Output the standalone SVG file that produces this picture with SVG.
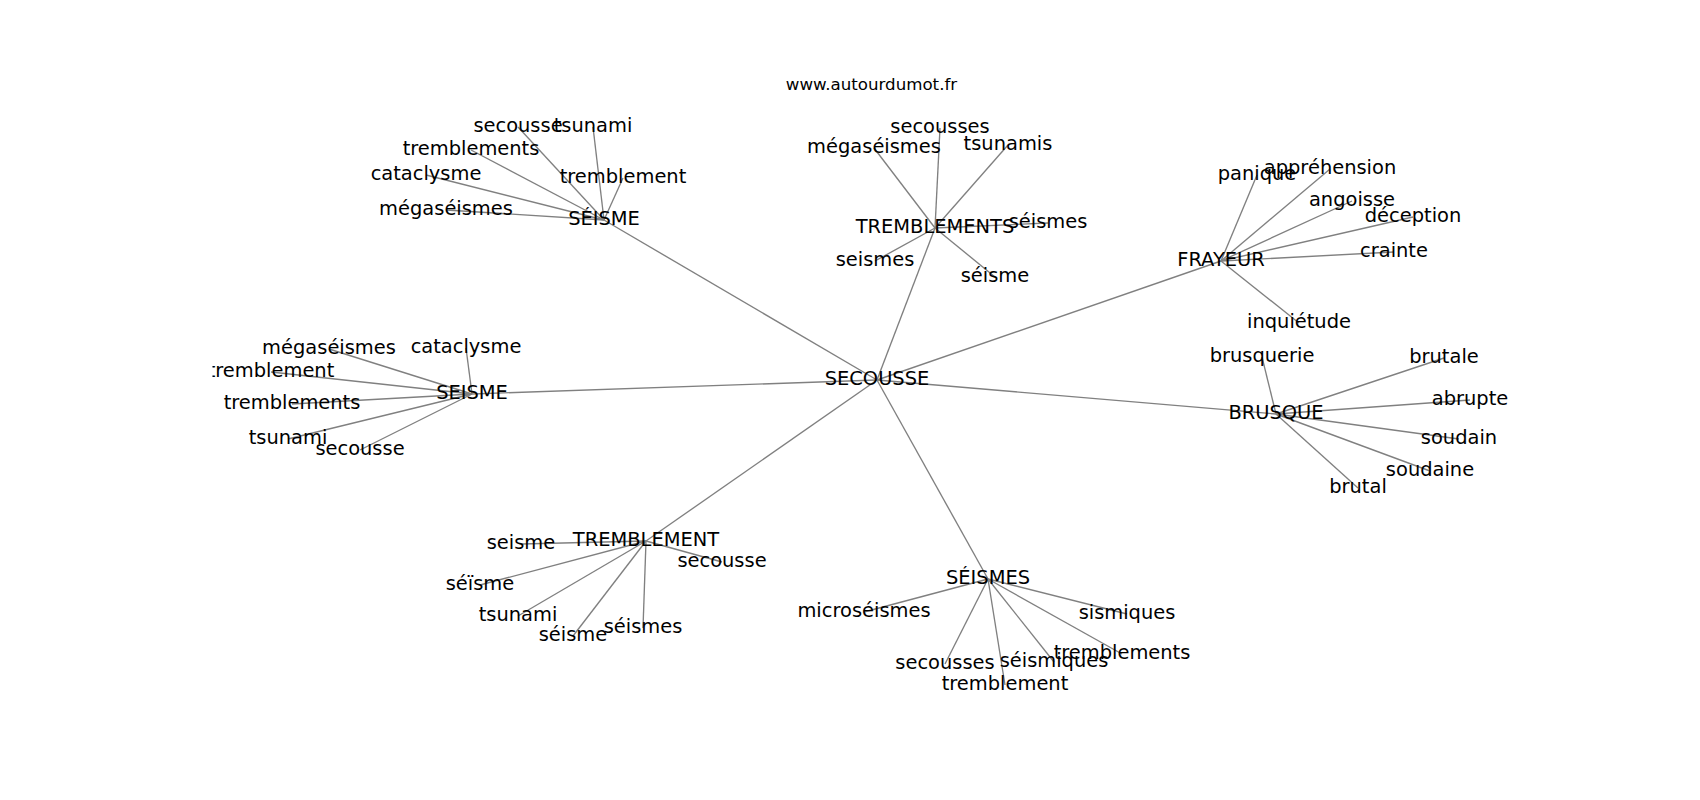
<svg xmlns="http://www.w3.org/2000/svg" width="1700" height="800" viewBox="0 0 1700 800">
<style>
  .e { stroke: #808080; stroke-width: 1.35; fill: none; }
  .n text { font-family: "DejaVu Sans", sans-serif; font-size: 19.44px; fill: #000; text-anchor: middle; }
  .title { font-family: "DejaVu Sans", sans-serif; font-size: 16.67px; fill: #000; text-anchor: middle; }
</style>
<defs>
  <clipPath id="ax"><rect x="212.5" y="96" width="1317.5" height="616"/></clipPath>
</defs>
<rect width="1700" height="800" fill="#fff"/>
<text class="title" x="871.5" y="90">www.autourdumot.fr</text>
<g id="connectors" clip-path="url(#ax)">
  <line class="e" x1="877" y1="380" x2="604" y2="220"/>
  <line class="e" x1="877" y1="380" x2="935" y2="228"/>
  <line class="e" x1="877" y1="380" x2="1221" y2="261"/>
  <line class="e" x1="877" y1="380" x2="1276" y2="414"/>
  <line class="e" x1="877" y1="380" x2="472" y2="394"/>
  <line class="e" x1="877" y1="380" x2="646" y2="541"/>
  <line class="e" x1="877" y1="380" x2="988" y2="579"/>
  <line class="e" x1="604" y1="220" x2="518" y2="127"/>
  <line class="e" x1="604" y1="220" x2="593" y2="127"/>
  <line class="e" x1="604" y1="220" x2="471" y2="150"/>
  <line class="e" x1="604" y1="220" x2="426" y2="175"/>
  <line class="e" x1="604" y1="220" x2="623" y2="178"/>
  <line class="e" x1="604" y1="220" x2="446" y2="210"/>
  <line class="e" x1="935" y1="228" x2="940" y2="128"/>
  <line class="e" x1="935" y1="228" x2="874" y2="148"/>
  <line class="e" x1="935" y1="228" x2="1008" y2="145"/>
  <line class="e" x1="935" y1="228" x2="1048" y2="223"/>
  <line class="e" x1="935" y1="228" x2="875" y2="261"/>
  <line class="e" x1="935" y1="228" x2="995" y2="277"/>
  <line class="e" x1="1221" y1="261" x2="1257" y2="175"/>
  <line class="e" x1="1221" y1="261" x2="1330" y2="169"/>
  <line class="e" x1="1221" y1="261" x2="1352" y2="201"/>
  <line class="e" x1="1221" y1="261" x2="1413" y2="217"/>
  <line class="e" x1="1221" y1="261" x2="1394" y2="252"/>
  <line class="e" x1="1221" y1="261" x2="1299" y2="323"/>
  <line class="e" x1="1276" y1="414" x2="1262" y2="357"/>
  <line class="e" x1="1276" y1="414" x2="1444" y2="358"/>
  <line class="e" x1="1276" y1="414" x2="1470" y2="400"/>
  <line class="e" x1="1276" y1="414" x2="1459" y2="439"/>
  <line class="e" x1="1276" y1="414" x2="1430" y2="471"/>
  <line class="e" x1="1276" y1="414" x2="1358" y2="488"/>
  <line class="e" x1="472" y1="394" x2="329" y2="349"/>
  <line class="e" x1="472" y1="394" x2="466" y2="348"/>
  <line class="e" x1="472" y1="394" x2="271" y2="372"/>
  <line class="e" x1="472" y1="394" x2="292" y2="404"/>
  <line class="e" x1="472" y1="394" x2="288" y2="439"/>
  <line class="e" x1="472" y1="394" x2="360" y2="450"/>
  <line class="e" x1="646" y1="541" x2="521" y2="544"/>
  <line class="e" x1="646" y1="541" x2="480" y2="585"/>
  <line class="e" x1="646" y1="541" x2="518" y2="616"/>
  <line class="e" x1="646" y1="541" x2="573" y2="636"/>
  <line class="e" x1="646" y1="541" x2="643" y2="628"/>
  <line class="e" x1="646" y1="541" x2="722" y2="562"/>
  <line class="e" x1="988" y1="579" x2="864" y2="612"/>
  <line class="e" x1="988" y1="579" x2="1127" y2="614"/>
  <line class="e" x1="988" y1="579" x2="1122" y2="654"/>
  <line class="e" x1="988" y1="579" x2="1054" y2="662"/>
  <line class="e" x1="988" y1="579" x2="945" y2="664"/>
  <line class="e" x1="988" y1="579" x2="1005" y2="685"/>
</g>
<g id="nodes" clip-path="url(#ax)">
  <g class="n" id="n-secousse"><text x="877" y="385">SECOUSSE</text></g>
  <g class="n" id="n-seisme-acc"><text x="604" y="225">SÉISME</text></g>
  <g class="n" id="n-tremblements"><text x="935" y="233">TREMBLEMENTS</text></g>
  <g class="n" id="n-frayeur"><text x="1221" y="266">FRAYEUR</text></g>
  <g class="n" id="n-brusque"><text x="1276" y="419">BRUSQUE</text></g>
  <g class="n" id="n-seisme"><text x="472" y="399">SEISME</text></g>
  <g class="n" id="n-tremblement"><text x="646" y="546">TREMBLEMENT</text></g>
  <g class="n" id="n-seismes-acc"><text x="988" y="584">SÉISMES</text></g>

  <g class="n" id="a1"><text x="518" y="132">secousse</text></g>
  <g class="n" id="a2"><text x="593" y="132">tsunami</text></g>
  <g class="n" id="a3"><text x="471" y="155">tremblements</text></g>
  <g class="n" id="a4"><text x="426" y="180">cataclysme</text></g>
  <g class="n" id="a5"><text x="623" y="183">tremblement</text></g>
  <g class="n" id="a6"><text x="446" y="215">mégaséismes</text></g>

  <g class="n" id="b1"><text x="940" y="133">secousses</text></g>
  <g class="n" id="b2"><text x="874" y="153">mégaséismes</text></g>
  <g class="n" id="b3"><text x="1008" y="150">tsunamis</text></g>
  <g class="n" id="b4"><text x="1048" y="228">séismes</text></g>
  <g class="n" id="b5"><text x="875" y="266">seismes</text></g>
  <g class="n" id="b6"><text x="995" y="282">séisme</text></g>

  <g class="n" id="c1"><text x="1257" y="180">panique</text></g>
  <g class="n" id="c2"><text x="1330" y="174">appréhension</text></g>
  <g class="n" id="c3"><text x="1352" y="206">angoisse</text></g>
  <g class="n" id="c4"><text x="1413" y="222">déception</text></g>
  <g class="n" id="c5"><text x="1394" y="257">crainte</text></g>
  <g class="n" id="c6"><text x="1299" y="328">inquiétude</text></g>

  <g class="n" id="d1"><text x="1262" y="362">brusquerie</text></g>
  <g class="n" id="d2"><text x="1444" y="363">brutale</text></g>
  <g class="n" id="d3"><text x="1470" y="405">abrupte</text></g>
  <g class="n" id="d4"><text x="1459" y="444">soudain</text></g>
  <g class="n" id="d5"><text x="1430" y="476">soudaine</text></g>
  <g class="n" id="d6"><text x="1358" y="493">brutal</text></g>

  <g class="n" id="e1"><text x="329" y="354">mégaséismes</text></g>
  <g class="n" id="e2"><text x="466" y="353">cataclysme</text></g>
  <g class="n" id="e3"><text x="271" y="377">tremblement</text></g>
  <g class="n" id="e4"><text x="292" y="409">tremblements</text></g>
  <g class="n" id="e5"><text x="288" y="444">tsunami</text></g>
  <g class="n" id="e6"><text x="360" y="455">secousse</text></g>

  <g class="n" id="f1"><text x="521" y="549">seisme</text></g>
  <g class="n" id="f2"><text x="480" y="590">séïsme</text></g>
  <g class="n" id="f3"><text x="518" y="621">tsunami</text></g>
  <g class="n" id="f4"><text x="573" y="641">séisme</text></g>
  <g class="n" id="f5"><text x="643" y="633">séismes</text></g>
  <g class="n" id="f6"><text x="722" y="567">secousse</text></g>

  <g class="n" id="g1"><text x="864" y="617">microséismes</text></g>
  <g class="n" id="g2"><text x="1127" y="619">sismiques</text></g>
  <g class="n" id="g3"><text x="1122" y="659">tremblements</text></g>
  <g class="n" id="g4"><text x="1054" y="667">séismiques</text></g>
  <g class="n" id="g5"><text x="945" y="669">secousses</text></g>
  <g class="n" id="g6"><text x="1005" y="690">tremblement</text></g>
</g>
</svg>
